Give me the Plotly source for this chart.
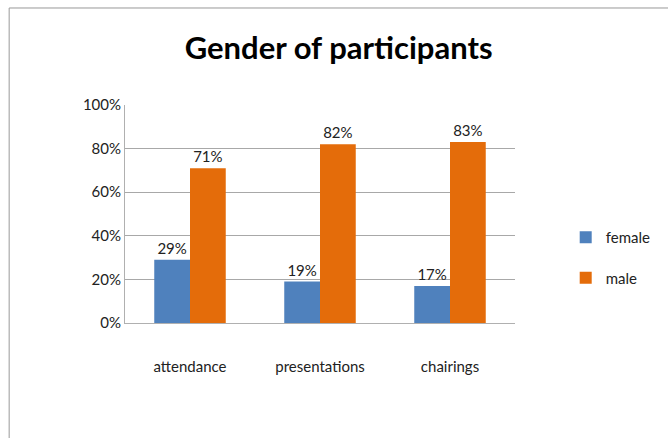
import plotly.graph_objects as go

categories = ["attendance", "presentations", "chairings"]
female = [0.29, 0.19, 0.17]
male = [0.71, 0.82, 0.83]
series_names = ["female", "male"]
colors = ["#4F81BD", "#E46C0A"]

FONT = "Lato, 'Open Sans', sans-serif"

fig = go.Figure()
for name, vals, col in zip(series_names, [female, male], colors):
    fig.add_trace(go.Bar(
        x=categories, y=vals, name=name, marker_color=col,
        marker_line_width=0,
        text=[f"{round(v*100)}%" for v in vals], textposition="outside",
        textfont=dict(size=15, color="#222", family=FONT),
        cliponaxis=False, legendgroup=name,
    ))

fig.update_layout(
    width=668, height=438,
    margin=dict(l=125, r=150, t=105, b=115),
    paper_bgcolor="white", plot_bgcolor="white",
    title=dict(text="<b>Gender of participants</b>", x=0.507, xref="container",
               xanchor="center", y=0.89, yanchor="middle",
               font=dict(size=31, color="black", family=FONT)),
    barmode="group", bargap=0.45, bargroupgap=0.0,
    font=dict(family=FONT, size=15, color="#222"),
    legend=dict(x=1.13, y=0.30, yanchor="middle", xanchor="left",
                tracegroupgap=18, font=dict(size=15, color="#222")),
    xaxis=dict(showline=True, linecolor="#b0b0b0", tickfont=dict(size=15),
               ticks="", showgrid=False, ticklabelstandoff=30),
    yaxis=dict(range=[0, 1], tickvals=[0, 0.2, 0.4, 0.6, 0.8, 1.0],
               tickformat=".0%", showgrid=True, gridcolor="#a8a8a8",
               showline=True, linecolor="#b0b0b0", zeroline=False,
               tickfont=dict(size=15), ticksuffix="  "),
    shapes=[dict(type="rect", xref="paper", yref="paper",
                 x0=-0.297, x1=1.55, y0=-0.6, y1=1.445,
                 line=dict(color="#999", width=1), layer="below")],
)

fig.write_html("out.html")
